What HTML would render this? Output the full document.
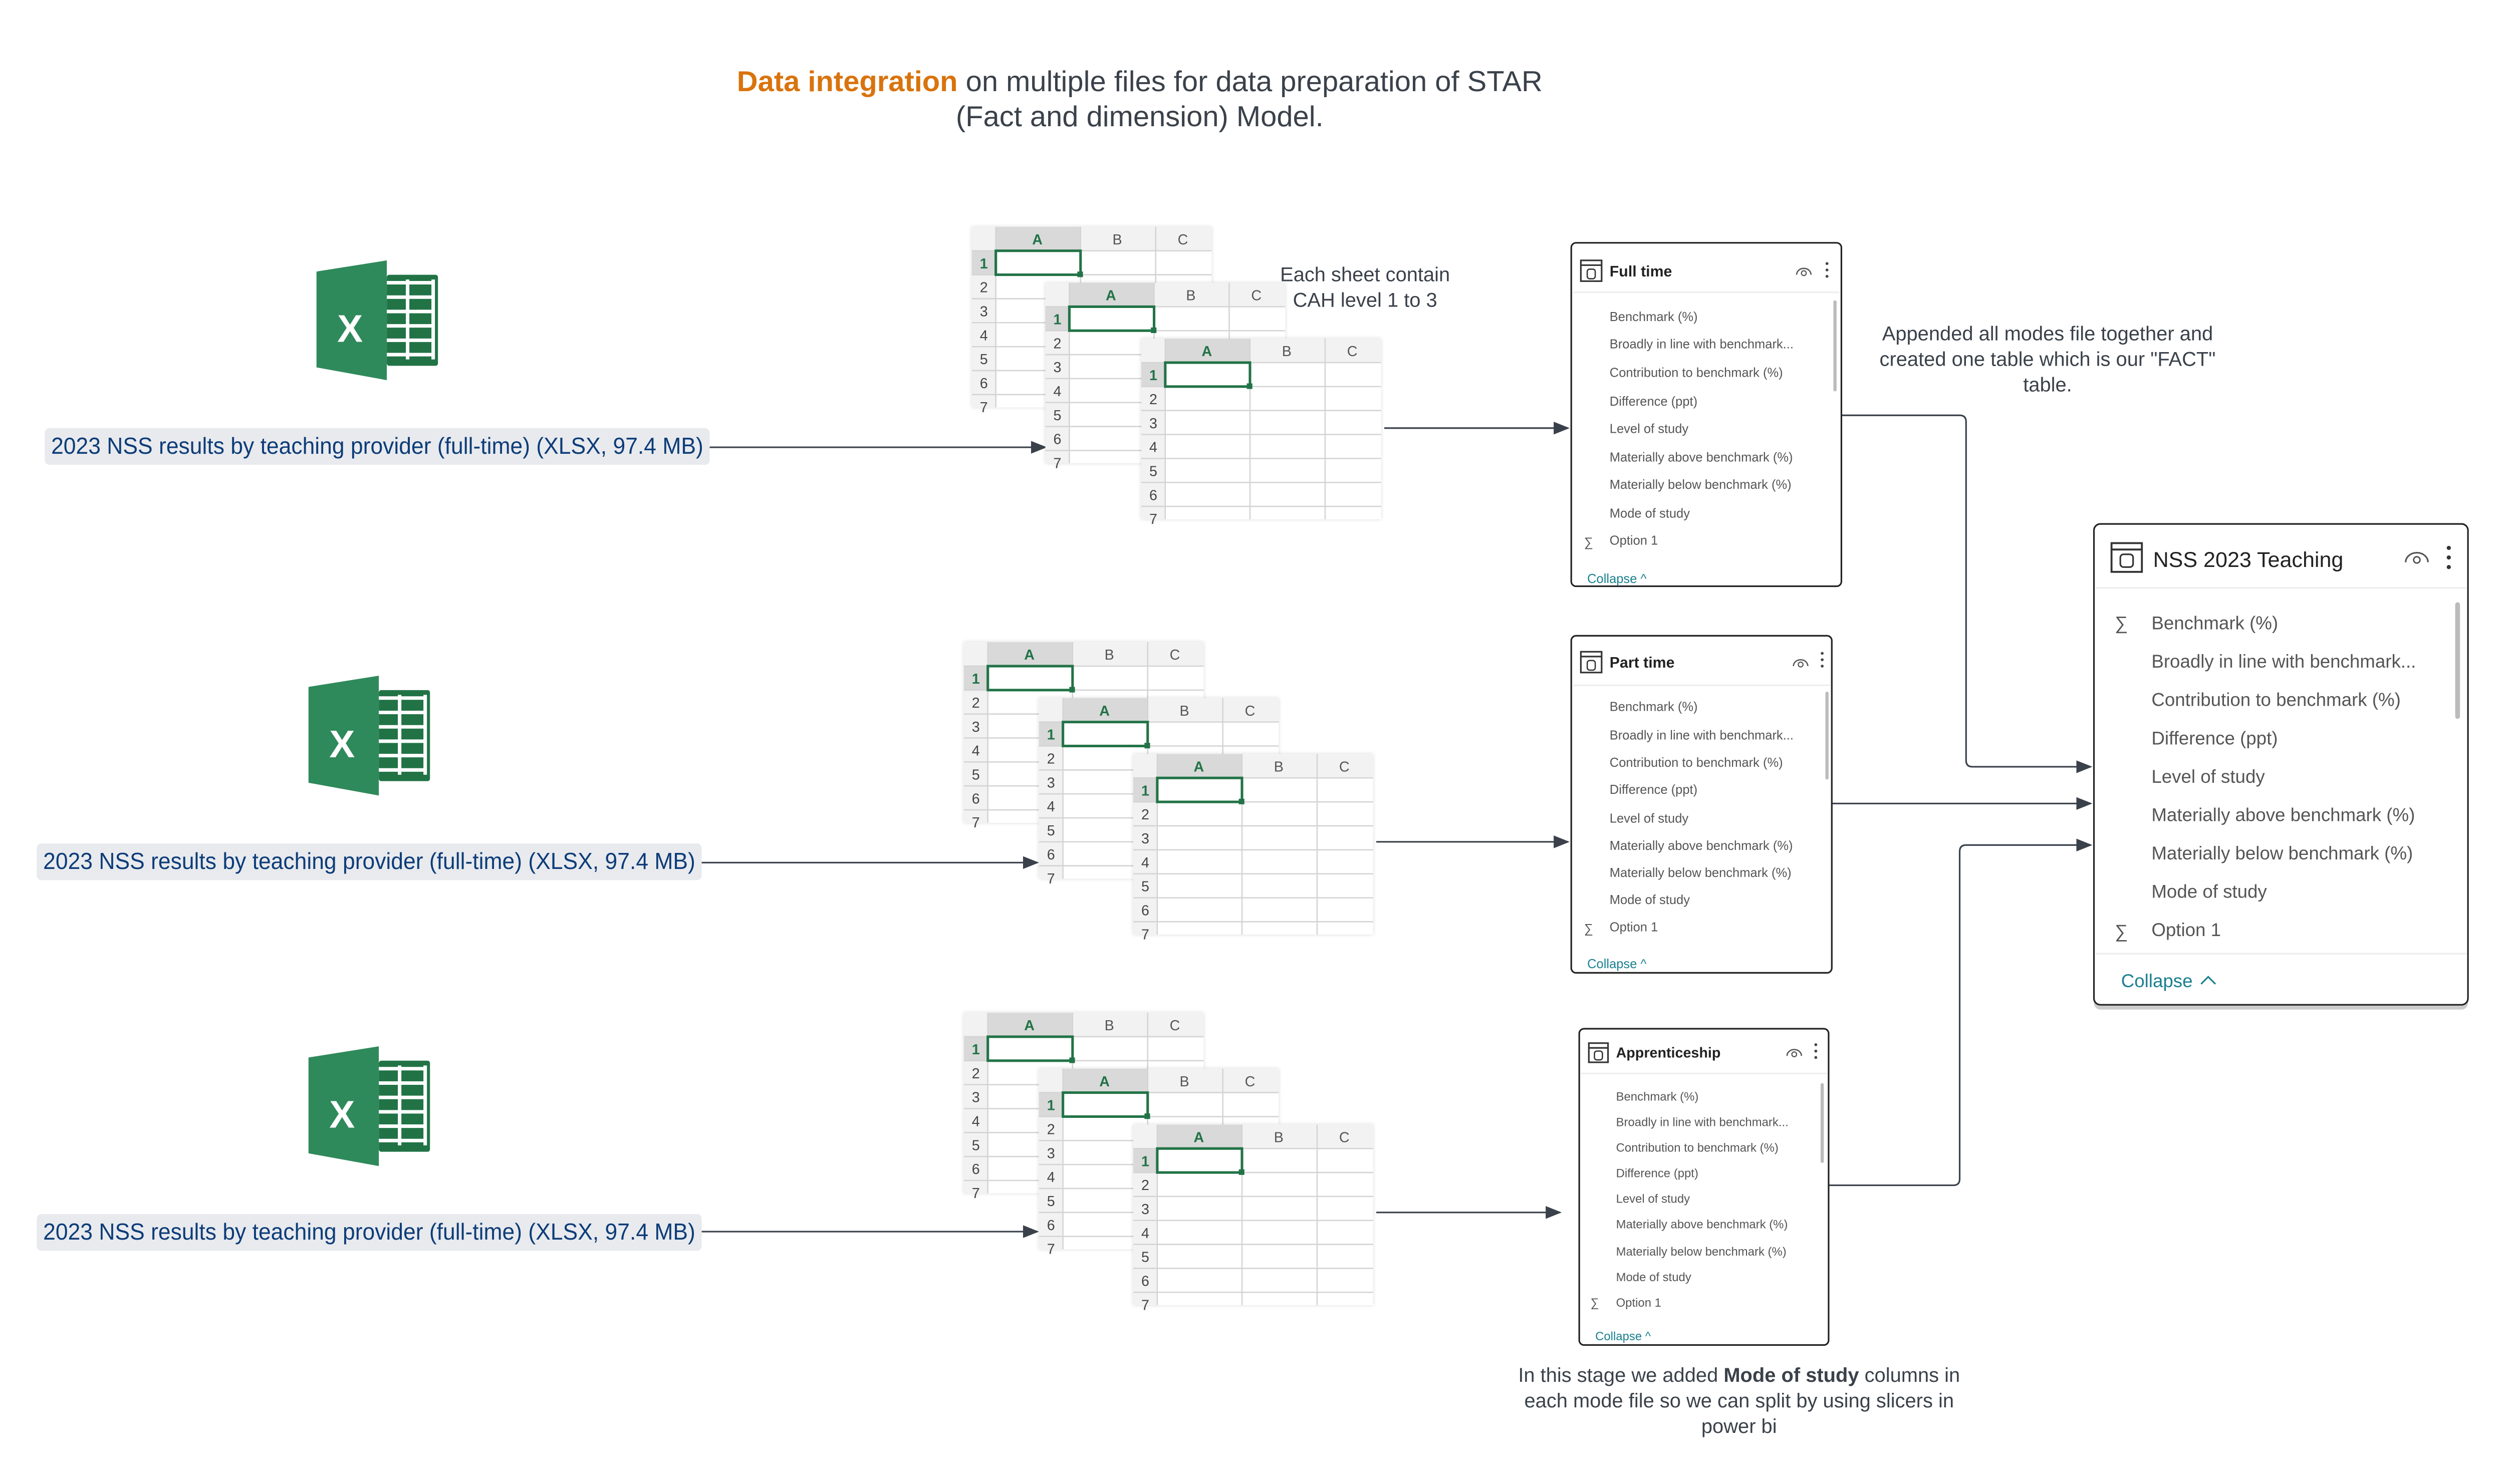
<!DOCTYPE html>
<html><head><meta charset="utf-8">
<style>
html,body{margin:0;padding:0;background:#fff;}
svg{display:block;}
text{font-family:"Liberation Sans",sans-serif;}
.hd{font-size:9px;text-anchor:middle;fill:#555;}
.hA{font-size:9px;text-anchor:middle;fill:#217346;font-weight:bold;}
.rn{font-size:9px;text-anchor:middle;fill:#444;}
.r1{font-size:9px;text-anchor:middle;fill:#217346;font-weight:bold;}
.lbl{font-size:14.5px;fill:#0d3c78;}
.t8{font-size:8px;fill:#555;}
.t7{font-size:7.5px;fill:#555;}
.t11{font-size:11.5px;fill:#555;}
.note{font-size:12.5px;fill:#3a414a;text-anchor:middle;}
.col{fill:#1b8090;}
</style></head>
<body>
<svg width="5025" height="2963" viewBox="0 0 1575 929" preserveAspectRatio="none" xmlns="http://www.w3.org/2000/svg">
<defs>
<marker id="ar" markerWidth="10" markerHeight="8" refX="9" refY="4" orient="auto" markerUnits="userSpaceOnUse">
<path d="M0 0L10 4L0 8Z" fill="#3a414a"/></marker>
<filter id="sd" x="-5%" y="-5%" width="110%" height="110%"><feDropShadow dx="0" dy="0" stdDeviation="1.2" flood-color="#000" flood-opacity="0.15"/></filter>
</defs>

<text x="461" y="57" font-size="18" fill="#3a414a" textLength="504" lengthAdjust="spacingAndGlyphs"><tspan fill="#d9730d" font-weight="bold">Data integration</tspan> on multiple files for data preparation of STAR</text>
<text x="598" y="79" font-size="18" fill="#3a414a" textLength="230" lengthAdjust="spacingAndGlyphs">(Fact and dimension) Model.</text>

<g>
<polygon points="198,170 242,163 242,238 198,230" fill="#2f8a5b"/>
<rect x="242" y="172" width="32" height="57" rx="1.5" fill="#217346"/>
<path d="M242 177H271M242 186H271M242 195H271M242 204H271M242 213H271M242 222H271M255 175V225M271 175V225" stroke="#fff" stroke-width="2.2"/>
<text x="219" y="214" font-size="24" font-weight="bold" fill="#fff" text-anchor="middle">X</text>
</g>
<g>
<polygon points="193,430 237,423 237,498 193,490" fill="#2f8a5b"/>
<rect x="237" y="432" width="32" height="57" rx="1.5" fill="#217346"/>
<path d="M237 437H266M237 446H266M237 455H266M237 464H266M237 473H266M237 482H266M250 435V485M266 435V485" stroke="#fff" stroke-width="2.2"/>
<text x="214" y="474" font-size="24" font-weight="bold" fill="#fff" text-anchor="middle">X</text>
</g>
<g>
<polygon points="193,662 237,655 237,730 193,722" fill="#2f8a5b"/>
<rect x="237" y="664" width="32" height="57" rx="1.5" fill="#217346"/>
<path d="M237 669H266M237 678H266M237 687H266M237 696H266M237 705H266M237 714H266M250 667V717M266 667V717" stroke="#fff" stroke-width="2.2"/>
<text x="214" y="706" font-size="24" font-weight="bold" fill="#fff" text-anchor="middle">X</text>
</g>

<rect x="28" y="268" width="416" height="23" rx="3" fill="#e8eaee"/>
<text class="lbl" x="32" y="284" textLength="408" lengthAdjust="spacingAndGlyphs">2023 NSS results by teaching provider (full-time) (XLSX, 97.4 MB)</text>
<rect x="23" y="528" width="416" height="23" rx="3" fill="#e8eaee"/>
<text class="lbl" x="27" y="544" textLength="408" lengthAdjust="spacingAndGlyphs">2023 NSS results by teaching provider (full-time) (XLSX, 97.4 MB)</text>
<rect x="23" y="760" width="416" height="23" rx="3" fill="#e8eaee"/>
<text class="lbl" x="27" y="776" textLength="408" lengthAdjust="spacingAndGlyphs">2023 NSS results by teaching provider (full-time) (XLSX, 97.4 MB)</text>

<g stroke="#3a414a" stroke-width="1" fill="none" marker-end="url(#ar)">
<path d="M444 280H654"/>
<path d="M439 540H649"/>
<path d="M439 771H649"/>
<path d="M866 268H981"/>
<path d="M861 527H981"/>
<path d="M861 759H976"/>
<path d="M1152 260H1226Q1230 260 1230 264V476Q1230 480 1234 480H1308"/>
<path d="M1146 503H1308"/>
<path d="M1144 742H1222Q1226 742 1226 738V533Q1226 529 1230 529H1308"/>
</g>

<svg x="608" y="142" width="150" height="113" filter="url(#sd)"><rect width="150" height="113" fill="#fff"/><rect width="150" height="15" fill="#f2f2f2"/><rect x="15" width="53" height="15" fill="#d9d9d9"/><rect y="15" width="15" height="98" fill="#f2f2f2"/><rect y="15" width="15" height="15" fill="#d9d9d9"/><path d="M0 15H150M0 30H150M0 45H150M0 60H150M0 75H150M0 90H150M0 105H150M15 0V113M68 0V113M115 0V113" stroke="#d4d4d4" stroke-width=".8"/><rect x="15" y="15" width="53" height="15" fill="none" stroke="#217346" stroke-width="1.6"/><rect x="66" y="28" width="3.5" height="3.5" fill="#217346"/><text class="hA" x="41" y="11">A</text><text class="hd" x="91" y="11">B</text><text class="hd" x="132" y="11">C</text><text class="r1" x="7.5" y="26">1</text><text class="rn" x="7.5" y="41">2</text><text class="rn" x="7.5" y="56">3</text><text class="rn" x="7.5" y="71">4</text><text class="rn" x="7.5" y="86">5</text><text class="rn" x="7.5" y="101">6</text><text class="rn" x="7.5" y="116">7</text></svg>
<svg x="654" y="177" width="150" height="113" filter="url(#sd)"><rect width="150" height="113" fill="#fff"/><rect width="150" height="15" fill="#f2f2f2"/><rect x="15" width="53" height="15" fill="#d9d9d9"/><rect y="15" width="15" height="98" fill="#f2f2f2"/><rect y="15" width="15" height="15" fill="#d9d9d9"/><path d="M0 15H150M0 30H150M0 45H150M0 60H150M0 75H150M0 90H150M0 105H150M15 0V113M68 0V113M115 0V113" stroke="#d4d4d4" stroke-width=".8"/><rect x="15" y="15" width="53" height="15" fill="none" stroke="#217346" stroke-width="1.6"/><rect x="66" y="28" width="3.5" height="3.5" fill="#217346"/><text class="hA" x="41" y="11">A</text><text class="hd" x="91" y="11">B</text><text class="hd" x="132" y="11">C</text><text class="r1" x="7.5" y="26">1</text><text class="rn" x="7.5" y="41">2</text><text class="rn" x="7.5" y="56">3</text><text class="rn" x="7.5" y="71">4</text><text class="rn" x="7.5" y="86">5</text><text class="rn" x="7.5" y="101">6</text><text class="rn" x="7.5" y="116">7</text></svg>
<svg x="714" y="212" width="150" height="113" filter="url(#sd)"><rect width="150" height="113" fill="#fff"/><rect width="150" height="15" fill="#f2f2f2"/><rect x="15" width="53" height="15" fill="#d9d9d9"/><rect y="15" width="15" height="98" fill="#f2f2f2"/><rect y="15" width="15" height="15" fill="#d9d9d9"/><path d="M0 15H150M0 30H150M0 45H150M0 60H150M0 75H150M0 90H150M0 105H150M15 0V113M68 0V113M115 0V113" stroke="#d4d4d4" stroke-width=".8"/><rect x="15" y="15" width="53" height="15" fill="none" stroke="#217346" stroke-width="1.6"/><rect x="66" y="28" width="3.5" height="3.5" fill="#217346"/><text class="hA" x="41" y="11">A</text><text class="hd" x="91" y="11">B</text><text class="hd" x="132" y="11">C</text><text class="r1" x="7.5" y="26">1</text><text class="rn" x="7.5" y="41">2</text><text class="rn" x="7.5" y="56">3</text><text class="rn" x="7.5" y="71">4</text><text class="rn" x="7.5" y="86">5</text><text class="rn" x="7.5" y="101">6</text><text class="rn" x="7.5" y="116">7</text></svg>
<svg x="603" y="402" width="150" height="113" filter="url(#sd)"><rect width="150" height="113" fill="#fff"/><rect width="150" height="15" fill="#f2f2f2"/><rect x="15" width="53" height="15" fill="#d9d9d9"/><rect y="15" width="15" height="98" fill="#f2f2f2"/><rect y="15" width="15" height="15" fill="#d9d9d9"/><path d="M0 15H150M0 30H150M0 45H150M0 60H150M0 75H150M0 90H150M0 105H150M15 0V113M68 0V113M115 0V113" stroke="#d4d4d4" stroke-width=".8"/><rect x="15" y="15" width="53" height="15" fill="none" stroke="#217346" stroke-width="1.6"/><rect x="66" y="28" width="3.5" height="3.5" fill="#217346"/><text class="hA" x="41" y="11">A</text><text class="hd" x="91" y="11">B</text><text class="hd" x="132" y="11">C</text><text class="r1" x="7.5" y="26">1</text><text class="rn" x="7.5" y="41">2</text><text class="rn" x="7.5" y="56">3</text><text class="rn" x="7.5" y="71">4</text><text class="rn" x="7.5" y="86">5</text><text class="rn" x="7.5" y="101">6</text><text class="rn" x="7.5" y="116">7</text></svg>
<svg x="650" y="437" width="150" height="113" filter="url(#sd)"><rect width="150" height="113" fill="#fff"/><rect width="150" height="15" fill="#f2f2f2"/><rect x="15" width="53" height="15" fill="#d9d9d9"/><rect y="15" width="15" height="98" fill="#f2f2f2"/><rect y="15" width="15" height="15" fill="#d9d9d9"/><path d="M0 15H150M0 30H150M0 45H150M0 60H150M0 75H150M0 90H150M0 105H150M15 0V113M68 0V113M115 0V113" stroke="#d4d4d4" stroke-width=".8"/><rect x="15" y="15" width="53" height="15" fill="none" stroke="#217346" stroke-width="1.6"/><rect x="66" y="28" width="3.5" height="3.5" fill="#217346"/><text class="hA" x="41" y="11">A</text><text class="hd" x="91" y="11">B</text><text class="hd" x="132" y="11">C</text><text class="r1" x="7.5" y="26">1</text><text class="rn" x="7.5" y="41">2</text><text class="rn" x="7.5" y="56">3</text><text class="rn" x="7.5" y="71">4</text><text class="rn" x="7.5" y="86">5</text><text class="rn" x="7.5" y="101">6</text><text class="rn" x="7.5" y="116">7</text></svg>
<svg x="709" y="472" width="150" height="113" filter="url(#sd)"><rect width="150" height="113" fill="#fff"/><rect width="150" height="15" fill="#f2f2f2"/><rect x="15" width="53" height="15" fill="#d9d9d9"/><rect y="15" width="15" height="98" fill="#f2f2f2"/><rect y="15" width="15" height="15" fill="#d9d9d9"/><path d="M0 15H150M0 30H150M0 45H150M0 60H150M0 75H150M0 90H150M0 105H150M15 0V113M68 0V113M115 0V113" stroke="#d4d4d4" stroke-width=".8"/><rect x="15" y="15" width="53" height="15" fill="none" stroke="#217346" stroke-width="1.6"/><rect x="66" y="28" width="3.5" height="3.5" fill="#217346"/><text class="hA" x="41" y="11">A</text><text class="hd" x="91" y="11">B</text><text class="hd" x="132" y="11">C</text><text class="r1" x="7.5" y="26">1</text><text class="rn" x="7.5" y="41">2</text><text class="rn" x="7.5" y="56">3</text><text class="rn" x="7.5" y="71">4</text><text class="rn" x="7.5" y="86">5</text><text class="rn" x="7.5" y="101">6</text><text class="rn" x="7.5" y="116">7</text></svg>
<svg x="603" y="634" width="150" height="113" filter="url(#sd)"><rect width="150" height="113" fill="#fff"/><rect width="150" height="15" fill="#f2f2f2"/><rect x="15" width="53" height="15" fill="#d9d9d9"/><rect y="15" width="15" height="98" fill="#f2f2f2"/><rect y="15" width="15" height="15" fill="#d9d9d9"/><path d="M0 15H150M0 30H150M0 45H150M0 60H150M0 75H150M0 90H150M0 105H150M15 0V113M68 0V113M115 0V113" stroke="#d4d4d4" stroke-width=".8"/><rect x="15" y="15" width="53" height="15" fill="none" stroke="#217346" stroke-width="1.6"/><rect x="66" y="28" width="3.5" height="3.5" fill="#217346"/><text class="hA" x="41" y="11">A</text><text class="hd" x="91" y="11">B</text><text class="hd" x="132" y="11">C</text><text class="r1" x="7.5" y="26">1</text><text class="rn" x="7.5" y="41">2</text><text class="rn" x="7.5" y="56">3</text><text class="rn" x="7.5" y="71">4</text><text class="rn" x="7.5" y="86">5</text><text class="rn" x="7.5" y="101">6</text><text class="rn" x="7.5" y="116">7</text></svg>
<svg x="650" y="669" width="150" height="113" filter="url(#sd)"><rect width="150" height="113" fill="#fff"/><rect width="150" height="15" fill="#f2f2f2"/><rect x="15" width="53" height="15" fill="#d9d9d9"/><rect y="15" width="15" height="98" fill="#f2f2f2"/><rect y="15" width="15" height="15" fill="#d9d9d9"/><path d="M0 15H150M0 30H150M0 45H150M0 60H150M0 75H150M0 90H150M0 105H150M15 0V113M68 0V113M115 0V113" stroke="#d4d4d4" stroke-width=".8"/><rect x="15" y="15" width="53" height="15" fill="none" stroke="#217346" stroke-width="1.6"/><rect x="66" y="28" width="3.5" height="3.5" fill="#217346"/><text class="hA" x="41" y="11">A</text><text class="hd" x="91" y="11">B</text><text class="hd" x="132" y="11">C</text><text class="r1" x="7.5" y="26">1</text><text class="rn" x="7.5" y="41">2</text><text class="rn" x="7.5" y="56">3</text><text class="rn" x="7.5" y="71">4</text><text class="rn" x="7.5" y="86">5</text><text class="rn" x="7.5" y="101">6</text><text class="rn" x="7.5" y="116">7</text></svg>
<svg x="709" y="704" width="150" height="113" filter="url(#sd)"><rect width="150" height="113" fill="#fff"/><rect width="150" height="15" fill="#f2f2f2"/><rect x="15" width="53" height="15" fill="#d9d9d9"/><rect y="15" width="15" height="98" fill="#f2f2f2"/><rect y="15" width="15" height="15" fill="#d9d9d9"/><path d="M0 15H150M0 30H150M0 45H150M0 60H150M0 75H150M0 90H150M0 105H150M15 0V113M68 0V113M115 0V113" stroke="#d4d4d4" stroke-width=".8"/><rect x="15" y="15" width="53" height="15" fill="none" stroke="#217346" stroke-width="1.6"/><rect x="66" y="28" width="3.5" height="3.5" fill="#217346"/><text class="hA" x="41" y="11">A</text><text class="hd" x="91" y="11">B</text><text class="hd" x="132" y="11">C</text><text class="r1" x="7.5" y="26">1</text><text class="rn" x="7.5" y="41">2</text><text class="rn" x="7.5" y="56">3</text><text class="rn" x="7.5" y="71">4</text><text class="rn" x="7.5" y="86">5</text><text class="rn" x="7.5" y="101">6</text><text class="rn" x="7.5" y="116">7</text></svg>

<text class="note" x="854" y="176">Each sheet contain</text>
<text class="note" x="854" y="192">CAH level 1 to 3</text>
<text class="note" x="1281" y="213">Appended all modes file together and</text>
<text class="note" x="1281" y="229">created one table which is our "FACT"</text>
<text class="note" x="1281" y="245">table.</text>
<text class="note" x="1088" y="865">In this stage we added <tspan font-weight="bold">Mode of study</tspan> columns in</text>
<text class="note" x="1088" y="881">each mode file so we can split by using slicers in</text>
<text class="note" x="1088" y="897">power bi</text>

<rect x="983" y="152" width="169" height="215" rx="3" fill="#fff" stroke="#222" stroke-width="1"/>
<line x1="984" y1="183" x2="1151" y2="183" stroke="#eee"/>
<rect x="989" y="163" width="13" height="13" fill="none" stroke="#333" stroke-width="1"/><line x1="989" y1="166" x2="1002" y2="166" stroke="#333"/><rect x="993" y="168.5" width="5" height="6" rx="1.5" fill="none" stroke="#333" stroke-width=".8"/>
<text x="1007" y="173" font-size="9.5" fill="#222" font-weight="bold">Full time</text>
<path d="M1124 172a4.5 4 0 0 1 9 0" fill="none" stroke="#555" stroke-width=".8"/><circle cx="1128.5" cy="171" r="1.5" fill="none" stroke="#555" stroke-width=".7"/>
<circle cx="1143" cy="165" r=".9" fill="#444"/><circle cx="1143" cy="169" r=".9" fill="#444"/><circle cx="1143" cy="173" r=".9" fill="#444"/>
<rect x="1147" y="188" width="2" height="57" rx="1" fill="#bbb"/>
<text class="t8" x="1007" y="201">Benchmark (%)</text>
<text class="t8" x="1007" y="218">Broadly in line with benchmark...</text>
<text class="t8" x="1007" y="236">Contribution to benchmark (%)</text>
<text class="t8" x="1007" y="254">Difference (ppt)</text>
<text class="t8" x="1007" y="271">Level of study</text>
<text class="t8" x="1007" y="289">Materially above benchmark (%)</text>
<text class="t8" x="1007" y="306">Materially below benchmark (%)</text>
<text class="t8" x="1007" y="324">Mode of study</text>
<text class="t8" x="991" y="342" font-size="11">∑</text><text class="t8" x="1007" y="341">Option 1</text>
<text class="t8 col" x="993" y="365">Collapse ^</text>

<rect x="983" y="398" width="163" height="211" rx="3" fill="#fff" stroke="#222" stroke-width="1"/>
<line x1="984" y1="429" x2="1145" y2="429" stroke="#eee"/>
<rect x="989" y="408" width="13" height="13" fill="none" stroke="#333" stroke-width="1"/><line x1="989" y1="411" x2="1002" y2="411" stroke="#333"/><rect x="993" y="413.5" width="5" height="6" rx="1.5" fill="none" stroke="#333" stroke-width=".8"/>
<text x="1007" y="418" font-size="9.5" fill="#222" font-weight="bold">Part time</text>
<path d="M1122 417a4.5 4 0 0 1 9 0" fill="none" stroke="#555" stroke-width=".8"/><circle cx="1126.5" cy="416" r="1.5" fill="none" stroke="#555" stroke-width=".7"/>
<circle cx="1140" cy="409" r=".9" fill="#444"/><circle cx="1140" cy="413" r=".9" fill="#444"/><circle cx="1140" cy="417" r=".9" fill="#444"/>
<rect x="1142" y="433" width="2" height="55" rx="1" fill="#bbb"/>
<text class="t8" x="1007" y="445">Benchmark (%)</text>
<text class="t8" x="1007" y="463">Broadly in line with benchmark...</text>
<text class="t8" x="1007" y="480">Contribution to benchmark (%)</text>
<text class="t8" x="1007" y="497">Difference (ppt)</text>
<text class="t8" x="1007" y="515">Level of study</text>
<text class="t8" x="1007" y="532">Materially above benchmark (%)</text>
<text class="t8" x="1007" y="549">Materially below benchmark (%)</text>
<text class="t8" x="1007" y="566">Mode of study</text>
<text class="t8" x="991" y="584" font-size="11">∑</text><text class="t8" x="1007" y="583">Option 1</text>
<text class="t8 col" x="993" y="606">Collapse ^</text>

<rect x="988" y="644" width="156" height="198" rx="3" fill="#fff" stroke="#222" stroke-width="1"/>
<line x1="989" y1="672" x2="1143" y2="672" stroke="#eee"/>
<rect x="994" y="653" width="12" height="12" fill="none" stroke="#333" stroke-width="1"/><line x1="994" y1="656" x2="1006" y2="656" stroke="#333"/><rect x="997.5" y="658" width="5" height="5.5" rx="1.5" fill="none" stroke="#333" stroke-width=".8"/>
<text x="1011" y="662" font-size="9" fill="#222" font-weight="bold">Apprenticeship</text>
<path d="M1118 661a4.5 4 0 0 1 9 0" fill="none" stroke="#555" stroke-width=".8"/><circle cx="1122.5" cy="660" r="1.5" fill="none" stroke="#555" stroke-width=".7"/>
<circle cx="1136" cy="654" r=".9" fill="#444"/><circle cx="1136" cy="658" r=".9" fill="#444"/><circle cx="1136" cy="662" r=".9" fill="#444"/>
<rect x="1139" y="678" width="2" height="50" rx="1" fill="#bbb"/>
<text class="t7" x="1011" y="689">Benchmark (%)</text>
<text class="t7" x="1011" y="705">Broadly in line with benchmark...</text>
<text class="t7" x="1011" y="721">Contribution to benchmark (%)</text>
<text class="t7" x="1011" y="737">Difference (ppt)</text>
<text class="t7" x="1011" y="753">Level of study</text>
<text class="t7" x="1011" y="769">Materially above benchmark (%)</text>
<text class="t7" x="1011" y="786">Materially below benchmark (%)</text>
<text class="t7" x="1011" y="802">Mode of study</text>
<text class="t7" x="995" y="818" font-size="10">∑</text><text class="t7" x="1011" y="818">Option 1</text>
<text class="t7 col" x="998" y="839">Collapse ^</text>

<rect x="1310" y="329" width="234" height="303" rx="4" fill="#ccc"/>
<rect x="1310" y="328" width="234" height="301" rx="4" fill="#fff" stroke="#222" stroke-width="1"/>
<line x1="1311" y1="368" x2="1543" y2="368" stroke="#eee"/>
<line x1="1311" y1="597" x2="1543" y2="597" stroke="#eee"/>
<rect x="1321" y="340" width="19" height="18" fill="none" stroke="#333" stroke-width="1.2"/><line x1="1321" y1="344" x2="1340" y2="344" stroke="#333" stroke-width="1.2"/><rect x="1326.5" y="347" width="8" height="8" rx="2" fill="none" stroke="#333" stroke-width="1"/>
<text x="1347" y="355" font-size="13.5" fill="#222">NSS 2023 Teaching</text>
<path d="M1505 352a7 6 0 0 1 14 0" fill="none" stroke="#555" stroke-width="1"/><circle cx="1512" cy="350.5" r="2" fill="none" stroke="#555" stroke-width=".9"/>
<circle cx="1532" cy="343" r="1.3" fill="#333"/><circle cx="1532" cy="349" r="1.3" fill="#333"/><circle cx="1532" cy="355" r="1.3" fill="#333"/>
<rect x="1536" y="377" width="3" height="73" rx="1.5" fill="#bbb"/>
<text class="t11" x="1323" y="394" font-size="15">∑</text><text class="t11" x="1346" y="394">Benchmark (%)</text>
<text class="t11" x="1346" y="418">Broadly in line with benchmark...</text>
<text class="t11" x="1346" y="442">Contribution to benchmark (%)</text>
<text class="t11" x="1346" y="466">Difference (ppt)</text>
<text class="t11" x="1346" y="490">Level of study</text>
<text class="t11" x="1346" y="514">Materially above benchmark (%)</text>
<text class="t11" x="1346" y="538">Materially below benchmark (%)</text>
<text class="t11" x="1346" y="562">Mode of study</text>
<text class="t11" x="1323" y="587" font-size="15">∑</text><text class="t11" x="1346" y="586">Option 1</text>
<text class="t11 col" x="1327" y="618">Collapse</text>
<path d="M1377 616l4.5-4.5 4.5 4.5" fill="none" stroke="#1b8090" stroke-width="1"/>
</svg>
</body></html>
